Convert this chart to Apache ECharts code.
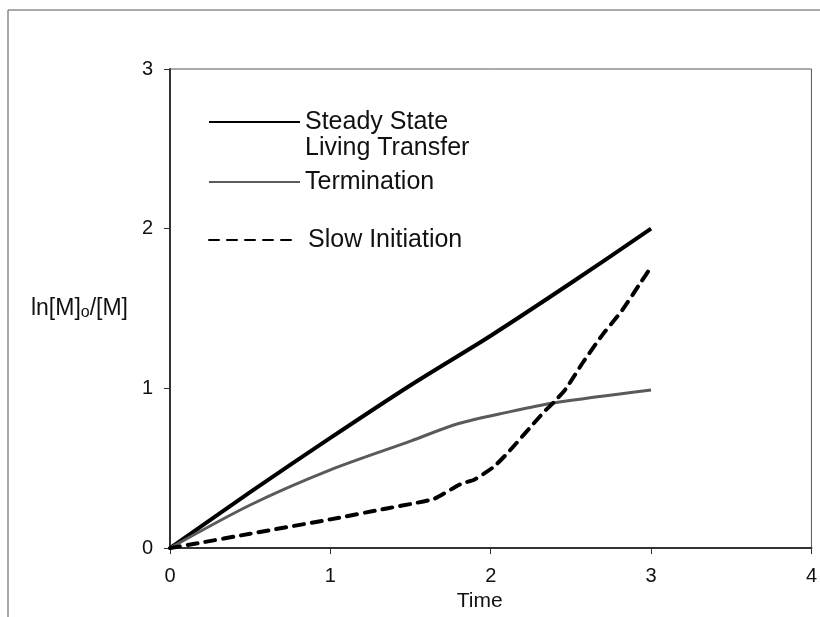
<!DOCTYPE html>
<html>
<head>
<meta charset="utf-8">
<script src="https://cdn.jsdelivr.net/npm/echarts@6/dist/echarts.min.js"></script>
<style>html,body{margin:0;padding:0;background:#fff}#c{width:820px;height:617px}</style>
</head>
<body>
<div id="c"></div>
<script>
var steadyState = [[0,0],[0.5,0.35],[1,0.69],[1.5,1.02],[2,1.33],[2.5,1.66],[3,2.0]];
var termination = [[0,0],[0.5,0.27],[1,0.49],[1.5,0.67],[1.8,0.78],[2.1,0.85],[2.4,0.91],[3,0.99]];
var slowInitiation = [[0,0],[0.17,0.03],[0.5,0.09],[1,0.18],[1.36,0.25],[1.52,0.28],[1.65,0.31],[1.81,0.4],[1.9,0.43],[2.02,0.51],[2.1,0.59],[2.18,0.68],[2.25,0.76],[2.33,0.85],[2.4,0.92],[2.47,1.0],[2.58,1.17],[2.7,1.34],[2.82,1.49],[2.94,1.67],[3,1.76]];
var seriesNames = ['Steady State\nLiving Transfer','Termination','Slow Initiation'];
var xTicks = [0,1,2,3,4];
var yTicks = [0,1,2,3];

var FONT = "'Liberation Sans', Arial, sans-serif";
var chart = echarts.init(document.getElementById('c'), null, {renderer:'canvas'});
var legendText = {fontFamily: FONT, fontSize: 25, color: '#111', lineHeight: 26};
var legendBase = {orient: 'vertical', padding: 0, itemHeight: 26, selectedMode: false, itemStyle: {opacity: 0}, textStyle: legendText};
chart.setOption({
  animation: false,
  backgroundColor: '#fff',
  grid: {left: 170, right: 2, top: 69, bottom: 65, show: true, borderColor: '#555', borderWidth: 1, backgroundColor: 'transparent'},
  xAxis: {
    type: 'value', min: xTicks[0], max: xTicks[xTicks.length-1], interval: 1,
    name: 'Time', nameLocation: 'middle', nameGap: 38,
    nameTextStyle: {fontFamily: FONT, fontSize: 21, color: '#111', padding: [0, 22, 0, 0]},
    axisLine: {show: true, lineStyle: {color: '#333', width: 2}},
    axisTick: {show: true, length: 6, lineStyle: {color: '#333', width: 1}},
    axisLabel: {fontFamily: FONT, fontSize: 20, color: '#111', margin: 18},
    splitLine: {show: false}
  },
  yAxis: {
    type: 'value', min: yTicks[0], max: yTicks[yTicks.length-1], interval: 1,
    name: 'ln[M]{sub|o}/[M]', nameLocation: 'middle', nameRotate: 0, nameGap: 42,
    nameTextStyle: {fontFamily: FONT, fontSize: 23, color: '#111', align: 'right',
      rich: {sub: {fontFamily: FONT, fontSize: 16, color: '#111', verticalAlign: 'bottom', padding: [9,0,0,0]}}},
    axisLine: {show: true, lineStyle: {color: '#333', width: 2}},
    axisTick: {show: true, length: 6, lineStyle: {color: '#333', width: 1}},
    axisLabel: {fontFamily: FONT, fontSize: 20, color: '#111', margin: 17},
    splitLine: {show: false}
  },
  legend: [
    Object.assign({}, legendBase, {data: [seriesNames[0]], left: 208, top: 83, itemWidth: 91,
      formatter: function (n) { return '\n' + n; }}),
    Object.assign({}, legendBase, {data: [seriesNames[1]], left: 208, top: 169, itemWidth: 91}),
    Object.assign({}, legendBase, {data: [seriesNames[2]], left: 208, top: 227, itemWidth: 88,
      textStyle: Object.assign({}, legendText, {padding: [0, 0, 0, 6]})})
  ],
  series: [
    {name: seriesNames[0], type: 'line', data: steadyState, symbol: 'none', smooth: 0.3,
     lineStyle: {color: '#000', width: 4}, itemStyle: {color: '#000'}},
    {name: seriesNames[1], type: 'line', data: termination, symbol: 'none', smooth: 0.3,
     lineStyle: {color: '#5a5a5a', width: 3}, itemStyle: {color: '#5a5a5a'}},
    {name: seriesNames[2], type: 'line', data: slowInitiation, symbol: 'none', smooth: 0.2,
     lineStyle: {color: '#000', width: 4, type: [10, 8], cap: 'round'}, itemStyle: {color: '#000'}}
  ],
  graphic: [
    {type: 'line', shape: {x1: 8, y1: 10, x2: 820, y2: 10}, style: {stroke: '#555', lineWidth: 1}},
    {type: 'line', shape: {x1: 8, y1: 10, x2: 8, y2: 617}, style: {stroke: '#555', lineWidth: 1}}
  ]
});
</script>
</body>
</html>
